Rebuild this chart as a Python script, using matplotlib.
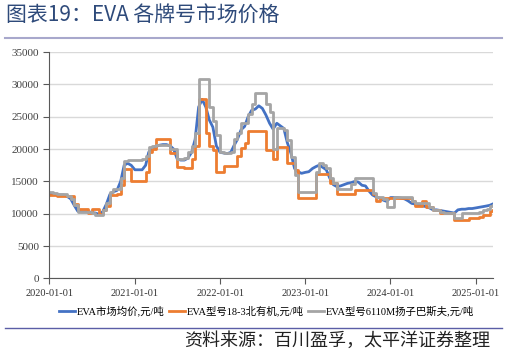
import matplotlib
matplotlib.use('Agg')
import matplotlib.pyplot as plt
import matplotlib.dates as mdates
import pandas as pd

# half-monthly readings (1st and 16th), Jan 2020 .. Mar 2025, last one mid-March 2025
months = pd.date_range('2020-01-01', '2025-02-01', freq='MS')
dates = [d for m in months for d in (m, m + pd.Timedelta(days=15))]
dates += [pd.Timestamp('2025-03-01'), pd.Timestamp('2025-03-14')]

avg_price = [
    13100, 13000, 13000, 12900, 12900, 12700, 12300, 11300, 10400, 10300, 10300, 10300,
    10200, 10100, 9900, 10300, 11500, 13000, 13400, 13600, 15000, 17500, 17800, 17500,
    16800, 16800, 16800, 17500, 19500, 20200, 20400, 20600, 20700, 20700, 20500, 20000,
    18500, 18300, 18300, 18600, 19500, 21500, 26500, 27700, 26500, 24500, 23400, 20500,
    19500, 19400, 19300, 19500, 20500, 21500, 23000, 23500, 25000, 26000, 26200, 26700,
    26300, 25300, 24000, 23100, 24000, 23600, 23200, 21000, 19300, 17000, 16500, 16250,
    16400, 16500, 17000, 17300, 17500, 17200, 16800, 15500, 14500, 14200, 14300, 14500,
    14700, 14800, 15000, 14900, 14400, 14300, 13500, 12900, 12600, 12400, 12100, 11900,
    12500, 12500, 12500, 12400, 12300, 12000, 11600, 11500, 11400, 11200, 11100, 10900,
    10600, 10600, 10500, 10400, 10300, 10200, 10100, 10600, 10700, 10700, 10800, 10800,
    10900, 11000, 11100, 11200, 11300, 11500]

grade_18_3 = [
    12900, 12900, 12800, 12800, 12800, 12800, 12800, 11500, 10800, 10800, 10800, 10100,
    10800, 10800, 10000, 10500, 11200, 12900, 12900, 13000, 14500, 16900, 16900, 15000,
    15000, 15000, 15000, 16500, 19500, 20000, 21500, 21500, 21500, 21500, 19400, 19400,
    17300, 17300, 17000, 17000, 18500, 20500, 27700, 27700, 22500, 20500, 19800, 16500,
    16500, 17400, 17400, 17400, 17400, 19000, 20200, 21000, 22800, 22800, 22800, 22800,
    22800, 19900, 19900, 18500, 20300, 20300, 20300, 17800, 17800, 16700, 12500, 12500,
    12500, 12500, 12500, 16200, 16200, 16200, 16200, 14700, 14700, 13000, 13000, 13000,
    13000, 13000, 13700, 13700, 13700, 13700, 13700, 13100, 11900, 12400, 12400, 12400,
    12400, 12400, 12500, 12500, 12500, 12400, 11900, 11200, 11200, 11900, 11000, 11000,
    10600, 10600, 10100, 10100, 10100, 10100, 9100, 9100, 9100, 9100, 9300, 9300,
    9300, 9500, 9800, 9800, 10400, 10600]

grade_6110m = [
    13300, 13200, 13100, 13100, 13000, 12800, 12300, 11300, 10300, 10300, 10300, 10300,
    10100, 9800, 9800, 10500, 11600, 13400, 13800, 13800, 15500, 18200, 18300, 18300,
    18300, 18300, 18400, 19000, 20300, 20500, 20700, 20700, 20700, 20700, 20000, 20000,
    18500, 18500, 18600, 19500, 20500, 22500, 30800, 30800, 30800, 26500, 24300, 22200,
    19500, 19400, 19400, 19500, 21500, 22500, 24000, 24000, 25500, 27000, 28700, 28700,
    28700, 27000, 25800, 20000, 23200, 23200, 23000, 21400, 18800, 16000, 13400, 13400,
    13400, 13400, 13400, 16500, 17800, 17500, 17000, 15500, 14700, 13900, 13900, 13900,
    13900, 14600, 15500, 15500, 15500, 15500, 15500, 13200, 12600, 12600, 12300, 11100,
    11100, 12600, 12600, 12600, 12600, 12600, 12000, 11600, 11600, 11600, 11600, 11000,
    10600, 10600, 10300, 10100, 10100, 10100, 9300, 9300, 10100, 10100, 10100, 10100,
    10100, 10200, 10500, 10800, 11200, 11400]

labels = ['EVA市场均价,元/吨', 'EVA型号18-3北有机,元/吨', 'EVA型号6110M扬子巴斯夫,元/吨']
colors = ['#4472C4', '#ED7D31', '#A5A5A5']

plt.rcParams['font.family'] = ['Liberation Serif', 'Noto Sans CJK SC']

fig = plt.figure(figsize=(5.07, 3.55), dpi=100)
ax = fig.add_axes([0.0976, 0.216, 0.8742, 0.637])

ax.plot(dates, avg_price, color=colors[0], lw=2, label=labels[0])
ax.plot(dates, grade_18_3, color=colors[1], lw=2, drawstyle='steps-post', label=labels[1])
ax.plot(dates, grade_6110m, color=colors[2], lw=2, drawstyle='steps-post', label=labels[2])

ax.set_ylim(0, 35000)
ax.set_yticks(range(0, 35001, 5000))
ax.set_xlim(pd.Timestamp('2020-01-01'), pd.Timestamp('2025-03-14'))
ax.xaxis.set_major_locator(mdates.YearLocator())
ax.xaxis.set_major_formatter(mdates.DateFormatter('%Y-%m-%d'))

ax.grid(axis='y', color='#D9D9D9', lw=1)
ax.set_axisbelow(True)
for s in ['top', 'right']:
    ax.spines[s].set_visible(False)
for s in ['left', 'bottom']:
    ax.spines[s].set_color('#595959')
ax.tick_params(axis='both', colors='#595959', length=4, direction='out')
ax.tick_params(axis='y', labelsize=8, labelcolor='#404040')
ax.tick_params(axis='x', labelsize=7.5, labelcolor='#333333')

ax.legend(loc='upper center', bbox_to_anchor=(0.49, -0.08), ncol=3, frameon=False,
          handlelength=1.5, handletextpad=0.2, columnspacing=0.4,
          prop={'family': ['Liberation Serif', 'Noto Sans CJK SC'], 'size': 7.5})

# header and footer
fig.text(0.012, 0.955, '图表19：EVA 各牌号市场价格', fontsize=15, color='#2E4A7A',
         family=['Noto Sans CJK SC', 'DejaVu Sans'], va='center', ha='left')
fig.add_artist(plt.Line2D([0.01, 0.99], [0.893, 0.893], color='#A8A8CC', lw=1.5))
fig.add_artist(plt.Line2D([0.01, 0.99], [0.076, 0.076], color='#5B5EA6', lw=1))
fig.text(0.967, 0.04, '资料来源：百川盈孚，太平洋证券整理', fontsize=13, color='#222222',
         family=['Noto Sans CJK SC', 'DejaVu Sans'], style='italic', va='center', ha='right')

fig.savefig('out.png', dpi=100)
